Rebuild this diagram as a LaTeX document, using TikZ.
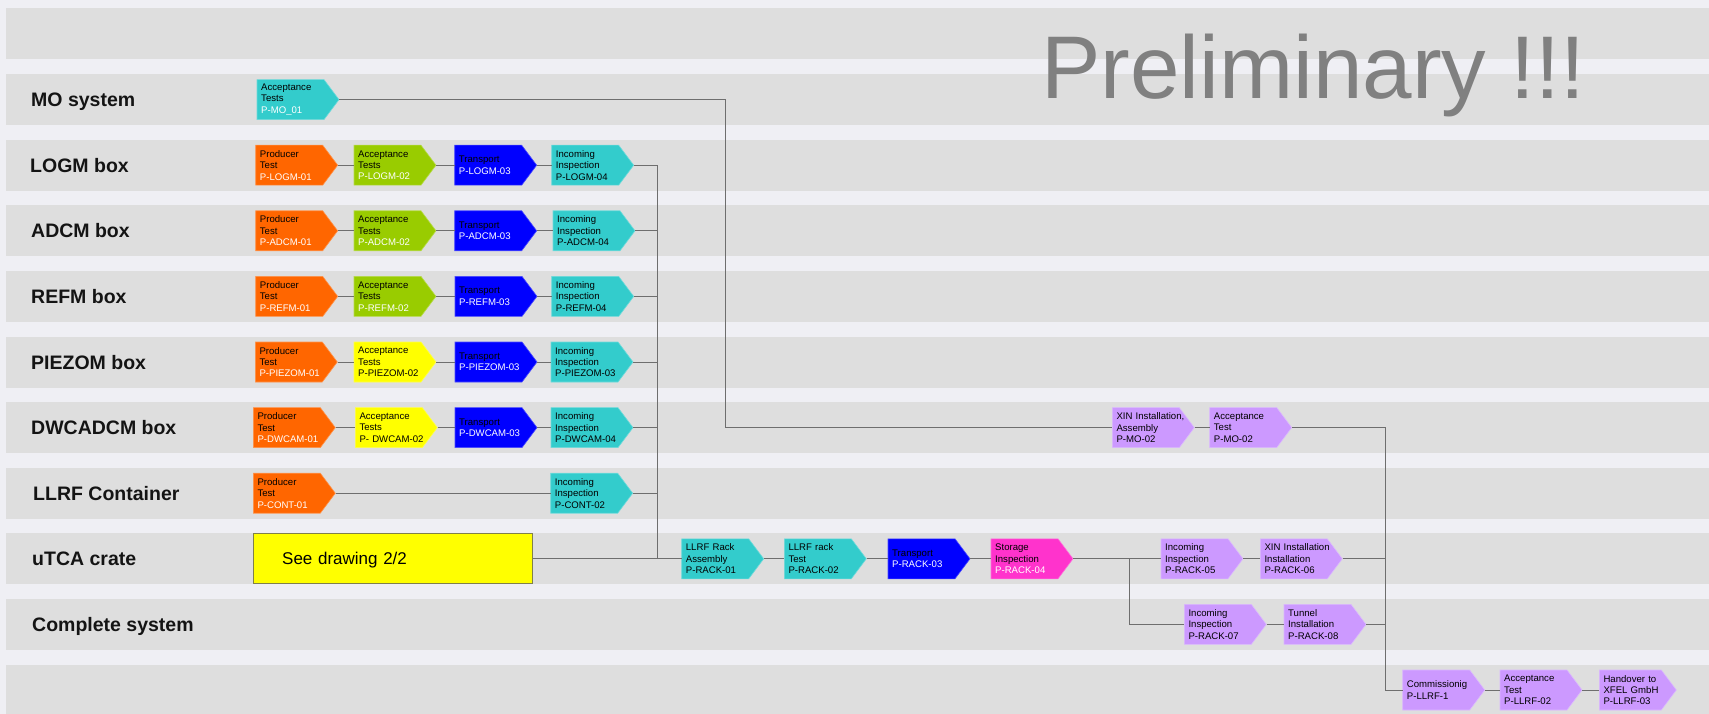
\documentclass[tikz,border=0pt]{standalone}
\usepackage{fontspec}
\setmainfont{Liberation Sans}

\definecolor{pagebg}{HTML}{EFEFF4}
\definecolor{lanebg}{HTML}{DEDEDE}
\definecolor{cOrange}{HTML}{FF6600}
\definecolor{cGreen}{HTML}{99CC00}
\definecolor{cYellow}{HTML}{FFFF00}
\definecolor{cBlue}{HTML}{0000FF}
\definecolor{cCyan}{HTML}{33CCCC}
\definecolor{cMagenta}{HTML}{FF33CC}
\definecolor{cLilac}{HTML}{CC99FF}
\definecolor{linkc}{HTML}{6E6E6E}
\definecolor{titlec}{HTML}{808080}
\definecolor{seeborder}{HTML}{80804A}

\tikzset{
  lanelabel/.style={anchor=base west, inner sep=0pt, text=black!92,
    font=\fontsize{19.5}{22}\selectfont\bfseries},
  stepbody/.style={rectangle, draw=none, inner sep=0pt, minimum height=40pt,
    anchor=west, align=left, font=\fontsize{9.6}{11.4}\selectfont},
  link/.style={draw=linkc, line width=1pt},
}

% white process id inside a step
\newcommand\wid[1]{\textcolor{white}{#1}}

% process step: [total width]{name}{left x}{centre y}{colour}{text}
\newcommand\stepnode[6][82]{%
  \pgfmathsetmacro\bodyw{#1-15}%
  \pgfmathsetmacro\textw{#1-8}%
  \filldraw[fill=#5, draw=#5!70!white, line width=0.6pt]
     (#3,#4-20) -- ++(\bodyw,0) -- ++(15,20) -- ++(-15,20) -- ++(-\bodyw,0) -- cycle;
  \node[stepbody, minimum width=#1pt, text width=\textw pt] (#2) at (#3,#4) {#6};
}

\begin{document}
\begin{tikzpicture}[x=1pt, y=-1pt]
  \useasboundingbox (0,0) rectangle (1709,714);
  \fill[pagebg] (0,0) rectangle (1709,714);

  % swim lanes
  \foreach \i in {0,...,10}
    \fill[lanebg] (6,{8.5+65.6*\i}) rectangle (1709,{59.5+65.6*\i});

  % lane centres
  \def\cA{99.6}  \def\cB{165.2} \def\cC{230.8} \def\cD{296.4}
  \def\cE{362.0} \def\cF{427.6} \def\cG{493.2} \def\cH{558.8}
  \def\cI{624.4} \def\cJ{690.0}

  % title
  \node[anchor=base west, inner sep=0pt, text=titlec,
        font=\fontsize{89}{89}\selectfont] (prelim) at (1041,99) {Preliminary !!!};

  % lane labels
  \node[lanelabel] (lbMO)   at (31,\cA+7) {MO system};
  \node[lanelabel] (lbLOGM) at (30,\cB+7) {LOGM box};
  \node[lanelabel] (lbADCM) at (31,\cC+7) {ADCM box};
  \node[lanelabel] (lbREFM) at (31,\cD+7) {REFM box};
  \node[lanelabel] (lbPZ)   at (31,\cE+7) {PIEZOM box};
  \node[lanelabel] (lbDW)   at (31,\cF+7) {DWCADCM box};
  \node[lanelabel] (lbCONT) at (33,\cG+7) {LLRF Container};
  \node[lanelabel] (lbUTCA) at (32,\cH+7) {uTCA crate};
  \node[lanelabel] (lbSYS)  at (32,\cI+7) {Complete system};

  % MO system
  \stepnode{mo1}{257}{\cA}{cCyan}{Acceptance\\Tests\\\wid{P-MO\_01}}

  % LOGM box
  \stepnode{logm1}{255.7}{\cB}{cOrange}{Producer\\Test\\\wid{P-LOGM-01}}
  \stepnode{logm2}{354}{\cB}{cGreen}{Acceptance\\Tests\\\wid{P-LOGM-02}}
  \stepnode{logm3}{454.7}{\cB}{cBlue}{Transport\\\wid{P-LOGM-03}}
  \stepnode{logm4}{551.7}{\cB}{cCyan}{Incoming\\Inspection\\P-LOGM-04}

  % ADCM box
  \stepnode{adcm1}{255.7}{\cC}{cOrange}{Producer\\Test\\\wid{P-ADCM-01}}
  \stepnode{adcm2}{354}{\cC}{cGreen}{Acceptance\\Tests\\\wid{P-ADCM-02}}
  \stepnode{adcm3}{454.7}{\cC}{cBlue}{Transport\\\wid{P-ADCM-03}}
  \stepnode{adcm4}{553}{\cC}{cCyan}{Incoming\\Inspection\\P-ADCM-04}

  % REFM box
  \stepnode{refm1}{255.7}{\cD}{cOrange}{Producer\\Test\\\wid{P-REFM-01}}
  \stepnode{refm2}{354}{\cD}{cGreen}{Acceptance\\Tests\\\wid{P-REFM-02}}
  \stepnode{refm3}{455}{\cD}{cBlue}{Transport\\\wid{P-REFM-03}}
  \stepnode{refm4}{551.7}{\cD}{cCyan}{Incoming\\Inspection\\P-REFM-04}

  % PIEZOM box
  \stepnode{pz1}{255.3}{\cE}{cOrange}{Producer\\Test\\\wid{P-PIEZOM-01}}
  \stepnode{pz2}{354}{\cE}{cYellow}{Acceptance\\Tests\\P-PIEZOM-02}
  \stepnode{pz3}{455}{\cE}{cBlue}{Transport\\\wid{P-PIEZOM-03}}
  \stepnode{pz4}{551}{\cE}{cCyan}{Incoming\\Inspection\\P-PIEZOM-03}

  % DWCADCM box
  \stepnode{dw1}{253.3}{\cF}{cOrange}{Producer\\Test\\\wid{P-DWCAM-01}}
  \stepnode{dw2}{355.3}{\cF}{cYellow}{Acceptance\\Tests\\P- DWCAM-02}
  \stepnode{dw3}{455}{\cF}{cBlue}{Transport\\\wid{P-DWCAM-03}}
  \stepnode{dw4}{551}{\cF}{cCyan}{Incoming\\Inspection\\P-DWCAM-04}

  % LLRF container
  \stepnode{cont1}{253.3}{\cG}{cOrange}{Producer\\Test\\\wid{P-CONT-01}}
  \stepnode{cont2}{550.7}{\cG}{cCyan}{Incoming\\Inspection\\P-CONT-02}

  % uTCA crate
  \node[draw=seeborder, fill=cYellow, line width=0.8pt, anchor=west,
        minimum width=279pt, minimum height=50pt, inner xsep=28.4pt, inner ysep=0pt,
        text width=222pt, text depth=0pt, align=left,
        font=\fontsize{17}{20}\selectfont] (see) at (253.3,\cH) {See drawing 2/2};
  \stepnode{rack1}{681.7}{\cH}{cCyan}{LLRF Rack\\Assembly\\P-RACK-01}
  \stepnode{rack2}{784.3}{\cH}{cCyan}{LLRF rack\\Test\\P-RACK-02}
  \stepnode{rack3}{888}{\cH}{cBlue}{Transport\\\wid{P-RACK-03}}
  \stepnode{rack4}{991}{\cH}{cMagenta}{Storage\\Inspection\\\wid{P-RACK-04}}
  \stepnode{rack5}{1161}{\cH}{cLilac}{Incoming\\Inspection\\P-RACK-05}
  \stepnode{rack6}{1260.3}{\cH}{cLilac}{XIN Installation\\Installation\\P-RACK-06}

  % MO system, installation
  \stepnode{mo2a}{1112.3}{\cF}{cLilac}{XIN Installation,\\Assembly\\P-MO-02}
  \stepnode{mo2b}{1209.7}{\cF}{cLilac}{Acceptance\\Test\\P-MO-02}

  % complete system
  \stepnode{rack7}{1184.3}{\cI}{cLilac}{Incoming\\Inspection\\P-RACK-07}
  \stepnode{rack8}{1284}{\cI}{cLilac}{Tunnel\\Installation\\P-RACK-08}

  % final steps
  \stepnode{llrf1}{1402.7}{\cJ}{cLilac}{Commissionig\\P-LLRF-1}
  \stepnode{llrf2}{1500}{\cJ}{cLilac}{Acceptance\\Test\\P-LLRF-02}
  \stepnode[77]{llrf3}{1599.3}{\cJ}{cLilac}{Handover to\\XFEL GmbH\\P-LLRF-03}

  % routing columns
  \coordinate (moX)    at (725.5,0);
  \coordinate (busX)   at (657.5,0);
  \coordinate (splitX) at (1129,0);
  \coordinate (mergeX) at (1385.5,0);

  % chains within the lanes
  \foreach \a/\b in {logm1/logm2,logm2/logm3,logm3/logm4,
                     adcm1/adcm2,adcm2/adcm3,adcm3/adcm4,
                     refm1/refm2,refm2/refm3,refm3/refm4,
                     pz1/pz2,pz2/pz3,pz3/pz4,
                     dw1/dw2,dw2/dw3,dw3/dw4,
                     cont1/cont2,
                     see/rack1,rack1/rack2,rack2/rack3,rack3/rack4,rack4/rack5,rack5/rack6,
                     mo2a/mo2b,rack7/rack8,llrf1/llrf2,llrf2/llrf3}
    \draw[link] (\a.east) -- (\b.west);

  % collecting bus of the boxes
  \draw[link] (logm4.east) -| (see.east -| busX);
  \foreach \n in {adcm4,refm4,pz4,dw4,cont2}
    \draw[link] (\n.east) -- (\n.east -| busX);

  % MO system path
  \draw[link] (mo1.east) -| (mo2a.west -| moX) -- (mo2a.west);

  % split to the tunnel branch
  \draw[link] (rack4.east -| splitX) |- (rack7.west);

  % merge towards commissioning
  \draw[link] (mo2b.east) -| (llrf1.west -| mergeX) -- (llrf1.west);
  \draw[link] (rack6.east) -- (rack6.east -| mergeX);
  \draw[link] (rack8.east) -- (rack8.east -| mergeX);
\end{tikzpicture}
\end{document}
